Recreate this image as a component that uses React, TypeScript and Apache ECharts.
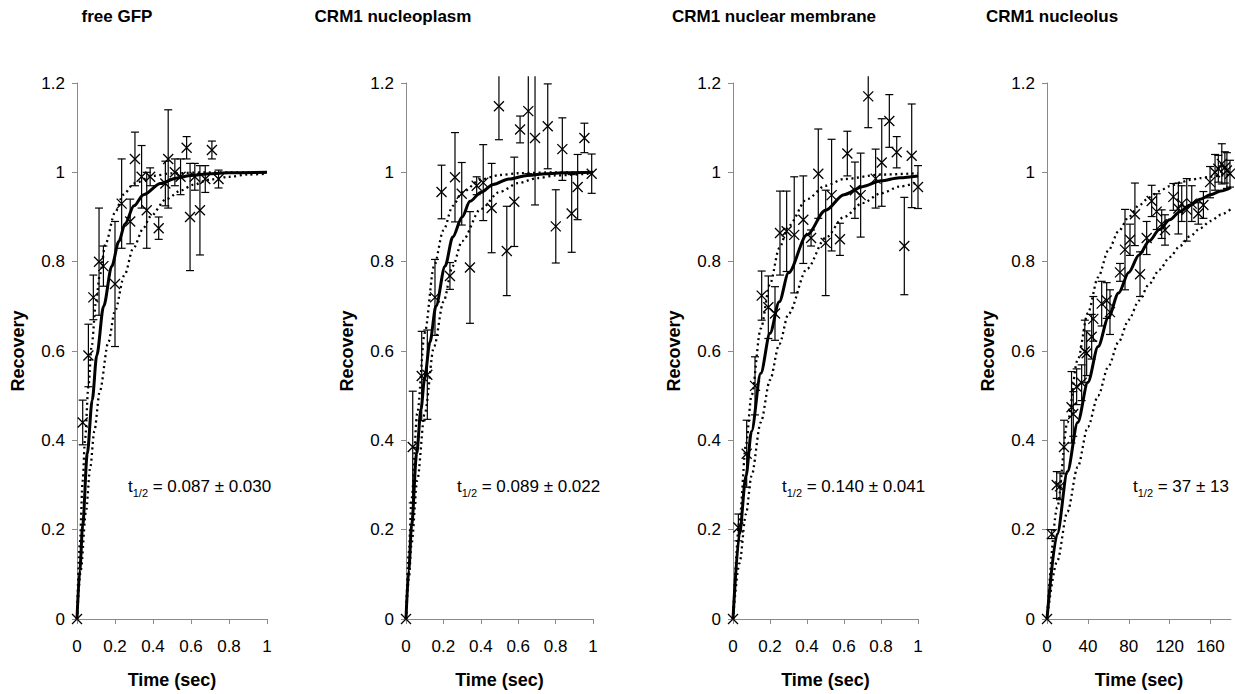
import React, { useEffect, useRef } from 'react';
import * as echarts from 'echarts';

// ---------- data ----------
const panelTitles = ['free GFP', 'CRM1 nucleoplasm', 'CRM1 nuclear membrane', 'CRM1 nucleolus'];
const halfTimeTexts = ['0.087 ± 0.030', '0.089 ± 0.022', '0.140 ± 0.041', '37 ± 13'];
const xMaxima = [1, 1, 1, 180];
const xIntervals = [0.2, 0.2, 0.2, 40];
const yTicks = { min: 0, max: 1.2, interval: 0.2 };
const xAxisName = 'Time (sec)';
const yAxisName = 'Recovery';

// measured points [time, recovery, error]
const gfpPoints = [
  [0, 0, 0], [0.03, 0.44, 0.05], [0.06, 0.59, 0.07], [0.086, 0.72, 0.05], [0.116, 0.8, 0.12],
  [0.139, 0.79, 0.045], [0.2, 0.75, 0.14], [0.235, 0.93, 0.1], [0.28, 0.89, 0.05], [0.305, 1.03, 0.06],
  [0.34, 0.99, 0.07], [0.367, 0.915, 0.085], [0.385, 0.99, 0.02], [0.43, 0.875, 0.025], [0.465, 0.975, 0.05],
  [0.48, 1.03, 0.11], [0.515, 1.0, 0.03], [0.545, 0.99, 0.04], [0.577, 1.055, 0.025], [0.595, 0.9, 0.12],
  [0.62, 0.99, 0.03], [0.647, 0.915, 0.1], [0.675, 0.985, 0.03], [0.71, 1.05, 0.02], [0.745, 0.985, 0.02],
];
const nucleoplasmPoints = [
  [0, 0, 0], [0.036, 0.385, 0.125], [0.084, 0.544, 0.1], [0.114, 0.547, 0.1], [0.155, 0.72, 0.085],
  [0.19, 0.956, 0.06], [0.235, 0.768, 0.03], [0.262, 0.989, 0.1], [0.298, 0.952, 0.07], [0.342, 0.787, 0.125],
  [0.378, 0.97, 0.02], [0.413, 0.977, 0.085], [0.458, 0.92, 0.1], [0.497, 1.148, 0.075], [0.539, 0.824, 0.1],
  [0.579, 0.934, 0.1], [0.61, 1.096, 0.03], [0.654, 1.137, 0.14], [0.69, 1.077, 0.15], [0.758, 1.103, 0.095],
  [0.801, 0.879, 0.082], [0.836, 1.052, 0.07], [0.886, 0.908, 0.087], [0.918, 0.967, 0.073], [0.954, 1.077, 0.033],
  [0.993, 0.997, 0.044],
];
const membranePoints = [
  [0, 0, 0], [0.029, 0.205, 0.03], [0.074, 0.37, 0.075], [0.119, 0.522, 0.065], [0.155, 0.724, 0.055],
  [0.191, 0.698, 0.07], [0.227, 0.684, 0.06], [0.254, 0.864, 0.094], [0.29, 0.868, 0.09], [0.331, 0.86, 0.13],
  [0.38, 0.894, 0.098], [0.422, 0.853, 0.018], [0.461, 0.997, 0.1], [0.501, 0.842, 0.118], [0.533, 0.949, 0.125],
  [0.578, 0.85, 0.036], [0.618, 1.042, 0.05], [0.659, 0.96, 0.063], [0.69, 0.949, 0.094], [0.731, 1.17, 0.07],
  [0.771, 0.986, 0.066], [0.804, 1.022, 0.098], [0.845, 1.115, 0.059], [0.885, 1.045, 0.035], [0.926, 0.835, 0.109],
  [0.966, 1.037, 0.116], [1.0, 0.967, 0.048],
];
const nucleolusPoints = [
  [0, 0, 0], [4.6, 0.19, 0.01], [9.5, 0.3, 0.03], [12.7, 0.297, 0.03], [16.6, 0.385, 0.06],
  [24, 0.474, 0.08], [25.7, 0.459, 0.05], [29, 0.52, 0.04], [33.9, 0.529, 0.04], [37, 0.599, 0.07],
  [38.8, 0.595, 0.05], [43.7, 0.632, 0.05], [45.3, 0.672, 0.05], [53.5, 0.706, 0.05], [58.4, 0.713, 0.04],
  [61.6, 0.687, 0.05], [71.4, 0.776, 0.02], [76.3, 0.827, 0.09], [81.2, 0.849, 0.035], [86, 0.906, 0.07],
  [91, 0.772, 0.05], [97.5, 0.853, 0.037], [102.4, 0.936, 0.035], [107.3, 0.912, 0.04], [112.2, 0.884, 0.032],
  [115.4, 0.871, 0.034], [123.6, 0.945, 0.03], [128.5, 0.919, 0.057], [131.8, 0.93, 0.04], [136.7, 0.916, 0.07],
  [141.6, 0.93, 0.04], [148, 0.908, 0.024], [153, 0.927, 0.03], [159.5, 0.978, 0.035], [164.4, 1.0, 0.04],
  [167.6, 1.008, 0.03], [171, 1.019, 0.045], [174, 1.011, 0.035], [176, 1.004, 0.04], [179, 0.997, 0.03],
];

// fitted curves [time, recovery]
const gfpFit = [[0, 0], [0.015, 0.11], [0.03, 0.21], [0.054, 0.37], [0.08, 0.49], [0.104, 0.59], [0.14, 0.7], [0.183, 0.79], [0.22, 0.845], [0.253, 0.885], [0.3, 0.925], [0.35, 0.95], [0.44, 0.975], [0.52, 0.987], [0.6, 0.993], [0.7, 0.997], [0.8, 0.999], [1, 1]];
const gfpUpper = [[0, 0], [0.015, 0.17], [0.03, 0.31], [0.042, 0.4], [0.06, 0.52], [0.077, 0.61], [0.1, 0.71], [0.12, 0.77], [0.15, 0.84], [0.2, 0.91], [0.244, 0.95], [0.3, 0.975], [0.4, 0.992], [0.5, 0.998], [0.7, 1.0], [1, 1.0]];
const gfpLower = [[0, 0], [0.02, 0.11], [0.047, 0.24], [0.07, 0.34], [0.091, 0.42], [0.12, 0.51], [0.165, 0.62], [0.2, 0.69], [0.25, 0.77], [0.296, 0.83], [0.35, 0.875], [0.384, 0.9], [0.47, 0.94], [0.55, 0.96], [0.61, 0.972], [0.7, 0.984], [0.8, 0.99], [0.9, 0.995], [1, 0.997]];

const nucleoplasmFit = [[0, 0], [0.015, 0.11], [0.03, 0.21], [0.057, 0.37], [0.08, 0.47], [0.1, 0.54], [0.128, 0.62], [0.16, 0.7], [0.209, 0.79], [0.25, 0.855], [0.3, 0.9], [0.342, 0.935], [0.4, 0.955], [0.467, 0.973], [0.55, 0.985], [0.65, 0.993], [0.75, 0.997], [0.85, 0.999], [1, 1]];
const nucleoplasmUpper = [[0, 0], [0.015, 0.15], [0.03, 0.27], [0.06, 0.46], [0.1, 0.64], [0.15, 0.79], [0.2, 0.87], [0.25, 0.925], [0.3, 0.955], [0.4, 0.984], [0.5, 0.994], [0.6, 0.998], [0.8, 1.0], [1, 1.0]];
const nucleoplasmLower = [[0, 0], [0.015, 0.09], [0.03, 0.17], [0.06, 0.31], [0.1, 0.46], [0.15, 0.61], [0.2, 0.71], [0.25, 0.79], [0.3, 0.846], [0.4, 0.918], [0.5, 0.956], [0.6, 0.976], [0.7, 0.987], [0.8, 0.993], [1, 0.998]];

const membraneFit = [[0, 0], [0.035, 0.19], [0.07, 0.32], [0.1, 0.42], [0.15, 0.55], [0.2, 0.64], [0.25, 0.71], [0.3, 0.775], [0.4, 0.86], [0.5, 0.915], [0.6, 0.95], [0.7, 0.968], [0.8, 0.981], [0.9, 0.988], [1.0, 0.992]];
const membraneUpper = [[0, 0], [0.035, 0.22], [0.07, 0.39], [0.1, 0.5], [0.15, 0.65], [0.2, 0.75], [0.25, 0.83], [0.3, 0.88], [0.4, 0.94], [0.5, 0.97], [0.6, 0.985], [0.8, 0.995], [1, 0.998]];
const membraneLower = [[0, 0], [0.035, 0.125], [0.07, 0.235], [0.1, 0.32], [0.15, 0.44], [0.2, 0.535], [0.25, 0.615], [0.3, 0.683], [0.4, 0.784], [0.5, 0.853], [0.6, 0.9], [0.7, 0.931], [0.8, 0.953], [0.9, 0.968], [1, 0.978]];

const nucleolusFit = [[0, 0], [10, 0.19], [20, 0.33], [30, 0.44], [40, 0.53], [50, 0.61], [60, 0.675], [70, 0.73], [80, 0.776], [90, 0.815], [100, 0.846], [110, 0.872], [120, 0.894], [130, 0.912], [140, 0.927], [150, 0.94], [160, 0.95], [170, 0.958], [180, 0.966]];
const nucleolusUpper = [[0, 0], [10, 0.25], [20, 0.44], [30, 0.58], [40, 0.685], [50, 0.765], [60, 0.825], [70, 0.868], [80, 0.9], [90, 0.926], [100, 0.944], [110, 0.958], [120, 0.969], [130, 0.977], [140, 0.983], [150, 0.987], [160, 0.99], [170, 0.993], [180, 0.995]];
const nucleolusLower = [[0, 0], [10, 0.13], [20, 0.24], [30, 0.34], [40, 0.43], [50, 0.5], [60, 0.565], [70, 0.62], [80, 0.67], [90, 0.713], [100, 0.75], [110, 0.782], [120, 0.81], [130, 0.835], [140, 0.857], [150, 0.875], [160, 0.891], [170, 0.905], [180, 0.918]];

const allPoints = [gfpPoints, nucleoplasmPoints, membranePoints, nucleolusPoints];
const allFits = [gfpFit, nucleoplasmFit, membraneFit, nucleolusFit];
const allUpper = [gfpUpper, nucleoplasmUpper, membraneUpper, nucleolusUpper];
const allLower = [gfpLower, nucleoplasmLower, membraneLower, nucleolusLower];

// ---------- layout ----------
const gridLefts = [77, 406, 733, 1047];
const gridWidths = [190, 187, 185, 184];
const gridTop = 83;
const gridHeight = 543;
const titleCenters = [117, 393, 774, 1052];
const annotationLefts = [128, 457, 782, 1133];
const FONT = '"Liberation Sans", Arial, Helvetica, sans-serif';
const AXIS_COLOR = '#8a8a8a';

const crossSymbol = 'path://M0,0L10,10M0,10L10,0';

function buildOption() {
  const grid: any[] = [];
  const xAxis: any[] = [];
  const yAxis: any[] = [];
  const series: any[] = [];
  const graphic: any[] = [];

  for (let i = 0; i < 4; i++) {
    grid.push({ left: gridLefts[i], top: gridTop, width: gridWidths[i], height: gridHeight });
    xAxis.push({
      type: 'value', gridIndex: i, min: 0, max: xMaxima[i], interval: xIntervals[i],
      name: xAxisName, nameLocation: 'middle', nameGap: 52,
      nameTextStyle: { fontFamily: FONT, fontSize: 18, fontWeight: 'bold', color: '#000' },
      axisLine: { show: true, lineStyle: { color: AXIS_COLOR, width: 1 } },
      axisTick: { show: true, inside: false, length: 5, lineStyle: { color: AXIS_COLOR } },
      axisLabel: { fontFamily: FONT, fontSize: 17, color: '#000', margin: 19, showMaxLabel: i === 3 ? false : true },
      splitLine: { show: false },
    });
    yAxis.push({
      type: 'value', gridIndex: i, min: yTicks.min, max: yTicks.max, interval: yTicks.interval,
      name: yAxisName, nameLocation: 'middle', nameGap: 50, nameRotate: 90,
      nameTextStyle: { fontFamily: FONT, fontSize: 18, fontWeight: 'bold', color: '#000' },
      axisLine: { show: true, lineStyle: { color: AXIS_COLOR, width: 1 } },
      axisTick: { show: true, inside: false, length: 5, lineStyle: { color: AXIS_COLOR } },
      axisLabel: { fontFamily: FONT, fontSize: 17, color: '#000', margin: 12 },
      splitLine: { show: false },
    });

    const lineBase = { type: 'line', xAxisIndex: i, yAxisIndex: i, showSymbol: false, symbol: 'none', smooth: 0.3, smoothMonotone: 'x', silent: true };
    series.push({ ...lineBase, data: allUpper[i], lineStyle: { color: '#000', width: 2.3, type: [2, 3.5] } });
    series.push({ ...lineBase, data: allLower[i], lineStyle: { color: '#000', width: 2.3, type: [2, 3.5] } });
    series.push({ ...lineBase, data: allFits[i], lineStyle: { color: '#000', width: 3 } });

    const errData = allPoints[i].filter((p) => p[2] > 0).map((p) => [p[0], p[1] - p[2], p[1] + p[2]]);
    series.push({
      type: 'custom', xAxisIndex: i, yAxisIndex: i, data: errData, silent: true,
      renderItem: (params: any, api: any) => {
        const x = api.value(0);
        const lo = api.value(1);
        let hi = api.value(2);
        const clipped = hi > 1.215;
        if (clipped) hi = 1.215;
        const pHi = api.coord([x, hi]);
        const pLo = api.coord([x, lo]);
        const w = 4;
        const st = { stroke: '#000', lineWidth: 1.2 };
        const children: any[] = [
          { type: 'line', shape: { x1: pHi[0], y1: pHi[1], x2: pLo[0], y2: pLo[1] }, style: st },
          { type: 'line', shape: { x1: pLo[0] - w, y1: pLo[1], x2: pLo[0] + w, y2: pLo[1] }, style: st },
        ];
        if (!clipped) {
          children.push({ type: 'line', shape: { x1: pHi[0] - w, y1: pHi[1], x2: pHi[0] + w, y2: pHi[1] }, style: st });
        }
        return { type: 'group', children };
      },
    });

    series.push({
      type: 'scatter', xAxisIndex: i, yAxisIndex: i, silent: true,
      data: allPoints[i].map((p) => [p[0], p[1]]),
      symbol: crossSymbol, symbolSize: 10,
      itemStyle: { color: 'transparent', borderColor: '#000', borderWidth: 1.3, opacity: 1 },
      clip: false,
    });

    graphic.push({
      type: 'text', x: titleCenters[i], y: 16,
      style: { text: panelTitles[i], fontFamily: FONT, fontSize: 17, fontWeight: 'bold', fill: '#000', align: 'center', verticalAlign: 'middle' },
    });
    graphic.push({
      type: 'text', left: annotationLefts[i], top: 478,
      style: {
        text: '{a|t}{s|1/2}{a| = ' + halfTimeTexts[i] + '}',
        rich: {
          a: { fontFamily: FONT, fontSize: 17, lineHeight: 24, fill: '#000' },
          s: { fontFamily: FONT, fontSize: 11, lineHeight: 10, verticalAlign: 'bottom', fill: '#000' },
        },
      },
    });
  }

  return { animation: false, backgroundColor: '#fff', grid, xAxis, yAxis, series, graphic };
}

export default function App() {
  const ref = useRef<HTMLDivElement>(null);
  useEffect(() => {
    if (!ref.current) return;
    const chart = echarts.init(ref.current, null, { renderer: 'svg' });
    chart.setOption(buildOption());
    return () => chart.dispose();
  }, []);
  return (
    <div
      ref={ref}
      style={{ position: 'fixed', left: 0, top: 0, width: 1235, height: 694, background: '#fff' }}
    />
  );
}
